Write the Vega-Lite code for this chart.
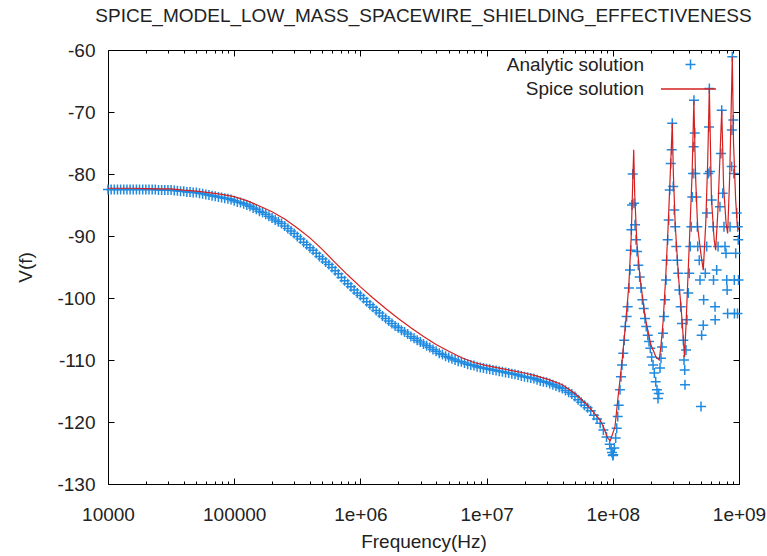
{
"$schema": "https://vega.github.io/schema/vega-lite/v6.json",
"width": 631, "height": 434,
"autosize": "none",
"padding": {"left": 108, "top": 50, "right": 28, "bottom": 72},
"background": "white",
"config": {"view": {"stroke": "#000", "strokeWidth": 1}, "font": "Liberation Sans"},
"title": {"text": "SPICE_MODEL_LOW_MASS_SPACEWIRE_SHIELDING_EFFECTIVENESS", "fontSize": 19, "fontWeight": "normal", "color": "#222", "offset": 15, "anchor": "middle"},
"datasets": {
"analytic": [
{"s":"A","f":1e4,"v":-82.5},{"s":"A","f":1.059e4,"v":-82.5},{"s":"A","f":1.122e4,"v":-82.5},{"s":"A","f":1.189e4,"v":-82.5},{"s":"A","f":1.259e4,"v":-82.5},{"s":"A","f":1.334e4,"v":-82.5},{"s":"A","f":1.413e4,"v":-82.5},{"s":"A","f":1.496e4,"v":-82.5},{"s":"A","f":1.585e4,"v":-82.5},{"s":"A","f":1.679e4,"v":-82.5},
{"s":"A","f":1.778e4,"v":-82.5},{"s":"A","f":1.884e4,"v":-82.5},{"s":"A","f":1.995e4,"v":-82.5},{"s":"A","f":2.113e4,"v":-82.5},{"s":"A","f":2.239e4,"v":-82.5},{"s":"A","f":2.371e4,"v":-82.5},{"s":"A","f":2.512e4,"v":-82.6},{"s":"A","f":2.661e4,"v":-82.6},{"s":"A","f":2.818e4,"v":-82.6},{"s":"A","f":2.985e4,"v":-82.6},
{"s":"A","f":3.162e4,"v":-82.6},{"s":"A","f":3.35e4,"v":-82.65},{"s":"A","f":3.548e4,"v":-82.7},{"s":"A","f":3.758e4,"v":-82.8},{"s":"A","f":3.981e4,"v":-82.8},{"s":"A","f":4.217e4,"v":-82.9},{"s":"A","f":4.467e4,"v":-82.9},{"s":"A","f":4.732e4,"v":-83.0},{"s":"A","f":5.012e4,"v":-83.0},{"s":"A","f":5.309e4,"v":-83.1},
{"s":"A","f":5.623e4,"v":-83.2},{"s":"A","f":5.957e4,"v":-83.3},{"s":"A","f":6.31e4,"v":-83.4},{"s":"A","f":6.683e4,"v":-83.5},{"s":"A","f":7.079e4,"v":-83.6},{"s":"A","f":7.499e4,"v":-83.7},{"s":"A","f":7.943e4,"v":-83.8},{"s":"A","f":8.414e4,"v":-83.9},{"s":"A","f":8.913e4,"v":-84.0},{"s":"A","f":9.441e4,"v":-84.1},
{"s":"A","f":1e5,"v":-84.3},{"s":"A","f":1.059e5,"v":-84.5},{"s":"A","f":1.122e5,"v":-84.6},{"s":"A","f":1.189e5,"v":-84.8},{"s":"A","f":1.259e5,"v":-85.0},{"s":"A","f":1.334e5,"v":-85.2},{"s":"A","f":1.413e5,"v":-85.5},{"s":"A","f":1.496e5,"v":-85.7},{"s":"A","f":1.585e5,"v":-86.0},{"s":"A","f":1.679e5,"v":-86.2},
{"s":"A","f":1.778e5,"v":-86.5},{"s":"A","f":1.884e5,"v":-86.8},{"s":"A","f":1.995e5,"v":-87.1},{"s":"A","f":2.113e5,"v":-87.4},{"s":"A","f":2.239e5,"v":-87.7},{"s":"A","f":2.371e5,"v":-88.0},{"s":"A","f":2.512e5,"v":-88.4},{"s":"A","f":2.661e5,"v":-88.8},{"s":"A","f":2.818e5,"v":-89.2},{"s":"A","f":2.985e5,"v":-89.6},
{"s":"A","f":3.162e5,"v":-90.1},{"s":"A","f":3.35e5,"v":-90.5},{"s":"A","f":3.548e5,"v":-91.0},{"s":"A","f":3.758e5,"v":-91.4},{"s":"A","f":3.981e5,"v":-91.9},{"s":"A","f":4.217e5,"v":-92.3},{"s":"A","f":4.467e5,"v":-92.8},{"s":"A","f":4.732e5,"v":-93.3},{"s":"A","f":5.012e5,"v":-93.7},{"s":"A","f":5.309e5,"v":-94.2},
{"s":"A","f":5.623e5,"v":-94.6},{"s":"A","f":5.957e5,"v":-95.1},{"s":"A","f":6.31e5,"v":-95.6},{"s":"A","f":6.683e5,"v":-96.1},{"s":"A","f":7.079e5,"v":-96.7},{"s":"A","f":7.499e5,"v":-97.2},{"s":"A","f":7.943e5,"v":-97.7},{"s":"A","f":8.414e5,"v":-98.2},{"s":"A","f":8.913e5,"v":-98.7},{"s":"A","f":9.441e5,"v":-99.2},
{"s":"A","f":1e6,"v":-99.6},{"s":"A","f":1.059e6,"v":-100.1},{"s":"A","f":1.122e6,"v":-100.6},{"s":"A","f":1.189e6,"v":-101.1},{"s":"A","f":1.259e6,"v":-101.5},{"s":"A","f":1.334e6,"v":-102.0},{"s":"A","f":1.413e6,"v":-102.4},{"s":"A","f":1.496e6,"v":-102.9},{"s":"A","f":1.585e6,"v":-103.3},{"s":"A","f":1.679e6,"v":-103.7},
{"s":"A","f":1.778e6,"v":-104.1},{"s":"A","f":1.884e6,"v":-104.5},{"s":"A","f":1.995e6,"v":-104.8},{"s":"A","f":2.113e6,"v":-105.2},{"s":"A","f":2.239e6,"v":-105.5},{"s":"A","f":2.371e6,"v":-105.8},{"s":"A","f":2.512e6,"v":-106.2},{"s":"A","f":2.661e6,"v":-106.5},{"s":"A","f":2.818e6,"v":-106.8},{"s":"A","f":2.985e6,"v":-107.1},
{"s":"A","f":3.162e6,"v":-107.4},{"s":"A","f":3.35e6,"v":-107.7},{"s":"A","f":3.548e6,"v":-108.0},{"s":"A","f":3.758e6,"v":-108.3},{"s":"A","f":3.981e6,"v":-108.6},{"s":"A","f":4.217e6,"v":-108.9},{"s":"A","f":4.467e6,"v":-109.1},{"s":"A","f":4.732e6,"v":-109.4},{"s":"A","f":5.012e6,"v":-109.6},{"s":"A","f":5.309e6,"v":-109.8},
{"s":"A","f":5.623e6,"v":-110.0},{"s":"A","f":5.957e6,"v":-110.2},{"s":"A","f":6.31e6,"v":-110.3},{"s":"A","f":6.683e6,"v":-110.5},{"s":"A","f":7.079e6,"v":-110.7},{"s":"A","f":7.499e6,"v":-110.8},{"s":"A","f":7.943e6,"v":-110.9},{"s":"A","f":8.414e6,"v":-111.1},{"s":"A","f":8.913e6,"v":-111.2},{"s":"A","f":9.441e6,"v":-111.3},
{"s":"A","f":1e7,"v":-111.4},{"s":"A","f":1.059e7,"v":-111.5},{"s":"A","f":1.122e7,"v":-111.6},{"s":"A","f":1.189e7,"v":-111.7},{"s":"A","f":1.259e7,"v":-111.8},{"s":"A","f":1.334e7,"v":-111.9},{"s":"A","f":1.413e7,"v":-112.0},{"s":"A","f":1.496e7,"v":-112.1},{"s":"A","f":1.585e7,"v":-112.2},{"s":"A","f":1.679e7,"v":-112.3},
{"s":"A","f":1.778e7,"v":-112.4},{"s":"A","f":1.884e7,"v":-112.6},{"s":"A","f":1.995e7,"v":-112.7},{"s":"A","f":2.113e7,"v":-112.8},{"s":"A","f":2.239e7,"v":-112.9},{"s":"A","f":2.371e7,"v":-113.0},{"s":"A","f":2.512e7,"v":-113.2},{"s":"A","f":2.661e7,"v":-113.4},{"s":"A","f":2.818e7,"v":-113.5},{"s":"A","f":2.985e7,"v":-113.6},
{"s":"A","f":3.162e7,"v":-113.8},{"s":"A","f":3.35e7,"v":-114.0},{"s":"A","f":3.548e7,"v":-114.2},{"s":"A","f":3.758e7,"v":-114.4},{"s":"A","f":3.981e7,"v":-114.6},{"s":"A","f":4.217e7,"v":-114.9},{"s":"A","f":4.467e7,"v":-115.2},{"s":"A","f":4.732e7,"v":-115.5},{"s":"A","f":5.012e7,"v":-115.9},{"s":"A","f":5.309e7,"v":-116.4},
{"s":"A","f":5.623e7,"v":-116.8},{"s":"A","f":5.957e7,"v":-117.3},{"s":"A","f":6.31e7,"v":-117.7},{"s":"A","f":6.683e7,"v":-118.2},{"s":"A","f":7.079e7,"v":-118.9},{"s":"A","f":7.499e7,"v":-119.5},{"s":"A","f":7.943e7,"v":-120.2},{"s":"A","f":8.414e7,"v":-121.3},{"s":"A","f":8.913e7,"v":-122.4},{"s":"A","f":9.441e7,"v":-123.6},
{"s":"A","f":9.7e7,"v":-124.3},{"s":"A","f":9.85e7,"v":-124.9},{"s":"A","f":1.0e8,"v":-125.4},
{"s":"A","f":1.009e8,"v":-125.3},{"s":"A","f":1.028e8,"v":-124.2},{"s":"A","f":1.054e8,"v":-122.6},{"s":"A","f":1.074e8,"v":-121.0},{"s":"A","f":1.094e8,"v":-119.1},{"s":"A","f":1.114e8,"v":-117.3},{"s":"A","f":1.14e8,"v":-114.8},{"s":"A","f":1.161e8,"v":-112.7},{"s":"A","f":1.183e8,"v":-110.8},{"s":"A","f":1.211e8,"v":-108.9},
{"s":"A","f":1.233e8,"v":-106.8},{"s":"A","f":1.256e8,"v":-104.6},{"s":"A","f":1.288e8,"v":-103.0},{"s":"A","f":1.312e8,"v":-101.4},{"s":"A","f":1.343e8,"v":-98.4},{"s":"A","f":1.368e8,"v":-95.5},{"s":"A","f":1.387e8,"v":-92.3},{"s":"A","f":1.403e8,"v":-89.0},{"s":"A","f":1.419e8,"v":-85.0},{"s":"A","f":1.439e8,"v":-80.0},
{"s":"A","f":1.472e8,"v":-84.7},{"s":"A","f":1.5e8,"v":-88.2},{"s":"A","f":1.528e8,"v":-90.6},{"s":"A","f":1.556e8,"v":-92.5},{"s":"A","f":1.592e8,"v":-94.7},{"s":"A","f":1.633e8,"v":-96.6},{"s":"A","f":1.672e8,"v":-98.4},{"s":"A","f":1.714e8,"v":-100.3},{"s":"A","f":1.758e8,"v":-101.7},{"s":"A","f":1.799e8,"v":-103.3},
{"s":"A","f":1.841e8,"v":-104.6},{"s":"A","f":1.892e8,"v":-106.0},{"s":"A","f":1.936e8,"v":-107.0},{"s":"A","f":1.982e8,"v":-108.1},{"s":"A","f":2.033e8,"v":-109.5},{"s":"A","f":2.084e8,"v":-110.8},{"s":"A","f":2.133e8,"v":-112.1},{"s":"A","f":2.188e8,"v":-113.5},{"s":"A","f":2.239e8,"v":-114.8},{"s":"A","f":2.28e8,"v":-116.2},
{"s":"A","f":2.312e8,"v":-115.4},{"s":"A","f":2.366e8,"v":-111.3},{"s":"A","f":2.41e8,"v":-109.7},{"s":"A","f":2.455e8,"v":-107.9},{"s":"A","f":2.5e8,"v":-105.7},{"s":"A","f":2.547e8,"v":-103.0},{"s":"A","f":2.594e8,"v":-100.3},{"s":"A","f":2.642e8,"v":-97.1},{"s":"A","f":2.673e8,"v":-93.9},{"s":"A","f":2.723e8,"v":-90.6},
{"s":"A","f":2.773e8,"v":-87.4},{"s":"A","f":2.825e8,"v":-82.6},{"s":"A","f":2.877e8,"v":-78.3},{"s":"A","f":2.931e8,"v":-76.1},{"s":"A","f":2.958e8,"v":-71.8},{"s":"A","f":3.013e8,"v":-82.0},{"s":"A","f":3.069e8,"v":-85.8},{"s":"A","f":3.126e8,"v":-88.5},{"s":"A","f":3.184e8,"v":-91.7},{"s":"A","f":3.243e8,"v":-93.9},
{"s":"A","f":3.304e8,"v":-96.0},{"s":"A","f":3.365e8,"v":-98.7},{"s":"A","f":3.451e8,"v":-101.4},{"s":"A","f":3.532e8,"v":-104.1},{"s":"A","f":3.622e8,"v":-106.8},{"s":"A","f":3.664e8,"v":-110.0},{"s":"A","f":3.715e8,"v":-111.6},{"s":"A","f":3.733e8,"v":-114.0},{"s":"A","f":3.802e8,"v":-108.4},{"s":"A","f":3.873e8,"v":-103.5},
{"s":"A","f":3.963e8,"v":-99.2},{"s":"A","f":4.036e8,"v":-96.0},{"s":"A","f":4.111e8,"v":-91.7},{"s":"A","f":4.188e8,"v":-88.5},{"s":"A","f":4.266e8,"v":-83.7},{"s":"A","f":4.325e8,"v":-79.9},{"s":"A","f":4.375e8,"v":-75.6},{"s":"A","f":4.395e8,"v":-68.1},{"s":"A","f":4.457e8,"v":-73.4},{"s":"A","f":4.508e8,"v":-79.9},
{"s":"A","f":4.592e8,"v":-83.7},{"s":"A","f":4.677e8,"v":-88.5},{"s":"A","f":4.71e8,"v":-91.7},{"s":"A","f":4.842e8,"v":-93.9},{"s":"A","f":4.909e8,"v":-97.1},{"s":"A","f":5.0e8,"v":-117.5},{"s":"A","f":5.058e8,"v":-106.0},{"s":"A","f":5.212e8,"v":-104.4},{"s":"A","f":5.248e8,"v":-100.3},{"s":"A","f":5.408e8,"v":-96.0},
{"s":"A","f":5.546e8,"v":-91.7},{"s":"A","f":5.572e8,"v":-86.3},{"s":"A","f":5.715e8,"v":-79.9},{"s":"A","f":5.781e8,"v":-72.4},{"s":"A","f":5.821e8,"v":-66.2},{"s":"A","f":5.888e8,"v":-79.6},{"s":"A","f":6.081e8,"v":-84.2},{"s":"A","f":6.252e8,"v":-88.5},{"s":"A","f":6.281e8,"v":-97.1},{"s":"A","f":6.457e8,"v":-101.4},
{"s":"A","f":6.471e8,"v":-103.5},{"s":"A","f":6.653e8,"v":-95.5},{"s":"A","f":6.823e8,"v":-91.7},{"s":"A","f":7.063e8,"v":-85.3},{"s":"A","f":7.194e8,"v":-76.7},{"s":"A","f":7.295e8,"v":-69.7},{"s":"A","f":7.43e8,"v":-83.1},{"s":"A","f":7.603e8,"v":-88.5},{"s":"A","f":7.745e8,"v":-91.7},{"s":"A","f":7.889e8,"v":-92.8},
{"s":"A","f":7.998e8,"v":-97.1},{"s":"A","f":8.054e8,"v":-98.7},{"s":"A","f":8.128e8,"v":-102.5},{"s":"A","f":8.492e8,"v":-88.5},{"s":"A","f":8.75e8,"v":-78.8},{"s":"A","f":8.79e8,"v":-72.9},{"s":"A","f":8.851e8,"v":-61.1},{"s":"A","f":9.016e8,"v":-71.3},{"s":"A","f":9.099e8,"v":-79.9},{"s":"A","f":9.183e8,"v":-97.1},
{"s":"A","f":9.204e8,"v":-102.5},{"s":"A","f":9.419e8,"v":-92.8},{"s":"A","f":9.594e8,"v":-86.3},{"s":"A","f":9.727e8,"v":-102.5},{"s":"A","f":9.772e8,"v":-88.5},{"s":"A","f":9.863e8,"v":-90.6},{"s":"A","f":9.908e8,"v":-97.1}
],
"spice": [
{"s":"S","f":1e4,"v":-82.3},{"s":"S","f":1.259e4,"v":-82.3},{"s":"S","f":1.585e4,"v":-82.3},{"s":"S","f":1.995e4,"v":-82.35},{"s":"S","f":2.512e4,"v":-82.4},{"s":"S","f":3.162e4,"v":-82.4},{"s":"S","f":3.981e4,"v":-82.6},{"s":"S","f":5.012e4,"v":-82.75},{"s":"S","f":6.31e4,"v":-83.0},{"s":"S","f":7.943e4,"v":-83.3},
{"s":"S","f":1e5,"v":-83.65},{"s":"S","f":1.259e5,"v":-84.3},{"s":"S","f":1.585e5,"v":-85.15},{"s":"S","f":1.995e5,"v":-86.1},{"s":"S","f":2.512e5,"v":-87.25},{"s":"S","f":3.162e5,"v":-88.7},{"s":"S","f":3.981e5,"v":-90.3},{"s":"S","f":5.012e5,"v":-92.2},{"s":"S","f":6.31e5,"v":-94.3},{"s":"S","f":7.943e5,"v":-96.3},
{"s":"S","f":1e6,"v":-98.2},{"s":"S","f":1.259e6,"v":-100.0},{"s":"S","f":1.585e6,"v":-101.7},{"s":"S","f":1.995e6,"v":-103.3},{"s":"S","f":2.512e6,"v":-104.8},{"s":"S","f":3.162e6,"v":-106.2},{"s":"S","f":3.981e6,"v":-107.5},{"s":"S","f":5.012e6,"v":-108.6},{"s":"S","f":6.31e6,"v":-109.6},{"s":"S","f":7.943e6,"v":-110.4},
{"s":"S","f":1e7,"v":-110.9},{"s":"S","f":1.259e7,"v":-111.3},{"s":"S","f":1.585e7,"v":-111.7},{"s":"S","f":1.995e7,"v":-112.1},{"s":"S","f":2.512e7,"v":-112.6},{"s":"S","f":3.162e7,"v":-113.2},{"s":"S","f":3.981e7,"v":-114.0},{"s":"S","f":5.012e7,"v":-115.4},{"s":"S","f":6.31e7,"v":-117.3},{"s":"S","f":7.079e7,"v":-118.5},
{"s":"S","f":7.943e7,"v":-119.7},{"s":"S","f":8.511e7,"v":-121.0},{"s":"S","f":9.12e7,"v":-122.6},{"s":"S","f":9.55e7,"v":-123.0},
{"s":"S","f":1.04e8,"v":-120.8},{"s":"S","f":1.1e8,"v":-116.0},{"s":"S","f":1.18e8,"v":-110.5},{"s":"S","f":1.26e8,"v":-104.3},{"s":"S","f":1.34e8,"v":-98.0},{"s":"S","f":1.4e8,"v":-90.0},{"s":"S","f":1.44e8,"v":-81.0},{"s":"S","f":1.465e8,"v":-76.1},{"s":"S","f":1.49e8,"v":-83.0},{"s":"S","f":1.55e8,"v":-91.0},
{"s":"S","f":1.65e8,"v":-97.0},{"s":"S","f":1.8e8,"v":-103.0},{"s":"S","f":2.0e8,"v":-107.5},{"s":"S","f":2.2e8,"v":-109.5},{"s":"S","f":2.33e8,"v":-110.0},{"s":"S","f":2.4e8,"v":-108.0},{"s":"S","f":2.5e8,"v":-104.0},{"s":"S","f":2.62e8,"v":-97.0},{"s":"S","f":2.75e8,"v":-88.0},{"s":"S","f":2.88e8,"v":-78.0},
{"s":"S","f":2.96e8,"v":-71.8},{"s":"S","f":3.02e8,"v":-80.0},{"s":"S","f":3.12e8,"v":-88.0},{"s":"S","f":3.3e8,"v":-96.0},{"s":"S","f":3.55e8,"v":-104.0},{"s":"S","f":3.7e8,"v":-109.5},{"s":"S","f":3.8e8,"v":-104.5},{"s":"S","f":3.95e8,"v":-96.0},{"s":"S","f":4.1e8,"v":-88.0},{"s":"S","f":4.25e8,"v":-80.0},
{"s":"S","f":4.39e8,"v":-68.1},{"s":"S","f":4.52e8,"v":-80.0},{"s":"S","f":4.7e8,"v":-88.5},{"s":"S","f":5.0e8,"v":-93.0},{"s":"S","f":5.21e8,"v":-95.5},{"s":"S","f":5.45e8,"v":-88.0},{"s":"S","f":5.65e8,"v":-78.0},{"s":"S","f":5.82e8,"v":-66.1},{"s":"S","f":6.05e8,"v":-84.0},{"s":"S","f":6.35e8,"v":-90.5},
{"s":"S","f":6.53e8,"v":-92.3},{"s":"S","f":6.8e8,"v":-86.0},{"s":"S","f":7.1e8,"v":-76.0},{"s":"S","f":7.3e8,"v":-69.7},{"s":"S","f":7.55e8,"v":-82.0},{"s":"S","f":7.9e8,"v":-88.0},{"s":"S","f":8.13e8,"v":-89.6},{"s":"S","f":8.45e8,"v":-80.0},{"s":"S","f":8.7e8,"v":-68.0},{"s":"S","f":8.85e8,"v":-61.1},
{"s":"S","f":9.05e8,"v":-75.0},{"s":"S","f":9.4e8,"v":-84.0},{"s":"S","f":9.7e8,"v":-88.5},{"s":"S","f":1e9,"v":-89.0}
]
},
"layer": [
{
"data": {"name": "analytic"},
"mark": {"type": "point", "shape": "M-1,0L1,0M0,-1L0,1", "filled": false, "size": 100, "strokeWidth": 1.5, "opacity": 1},
"encoding": {
"x": {"field": "f", "type": "quantitative",
 "scale": {"type": "log", "domain": [10000, 1000000000], "nice": false},
 "axis": {"orient": "bottom", "title": "Frequency(Hz)", "titleFontSize": 19, "titleFontWeight": "normal", "titleColor": "#222", "titlePadding": 5,
  "values": [1e4,2e4,3e4,4e4,5e4,6e4,7e4,8e4,9e4,1e5,2e5,3e5,4e5,5e5,6e5,7e5,8e5,9e5,1e6,2e6,3e6,4e6,5e6,6e6,7e6,8e6,9e6,1e7,2e7,3e7,4e7,5e7,6e7,7e7,8e7,9e7,1e8,2e8,3e8,4e8,5e8,6e8,7e8,8e8,9e8,1e9],
  "labelExpr": "abs(log(datum.value)/LN10 - round(log(datum.value)/LN10)) > 0.001 ? '' : (datum.value < 1e6 ? format(datum.value, 'd') : '1e+0' + format(log(datum.value)/LN10, '.0f'))",
  "labelFontSize": 19, "labelColor": "#222", "labelPadding": 27, "labelFlush": false, "labelOverlap": false, "labelBound": false,
  "tickSize": {"condition": {"test": "abs(log(datum.value)/LN10 - round(log(datum.value)/LN10)) < 0.001", "value": -6}, "value": -3},
  "tickColor": "#000", "tickWidth": 1, "domain": false, "grid": false}},
"y": {"field": "v", "type": "quantitative",
 "scale": {"domain": [-130, -60], "nice": false, "zero": false},
 "axis": {"orient": "left", "title": "V(f)", "titleFontSize": 19, "titleFontWeight": "normal", "titleColor": "#222", "titlePadding": 21,
  "values": [-130,-120,-110,-100,-90,-80,-70,-60], "labelExpr": "datum.value + ''", "labelFontSize": 19, "labelColor": "#222", "labelPadding": 19, "labelFlush": false, "labelOverlap": false, "labelBound": false,
  "tickSize": -6, "tickColor": "#000", "domain": false, "grid": false}},
"color": {"field": "s", "type": "nominal",
 "scale": {"domain": ["A"], "range": ["#1f8ae0"]},
 "legend": {"orient": "none", "legendX": 573, "legendY": 5, "title": null, "padding": 0,
  "labelExpr": "'Analytic solution'",
  "labelFontSize": 19, "labelColor": "#222", "labelAlign": "right", "labelOffset": -56, "labelLimit": 0,
  "symbolType": "M-1,0L1,0M0,-1L0,1", "symbolSize": 100, "symbolStrokeWidth": 1.5, "symbolFillColor": "transparent", "symbolStrokeColor": "#1f8ae0"}}
}
},
{
"data": {"name": "spice"},
"mark": {"type": "line", "strokeWidth": 1.2, "clip": true},
"encoding": {
"x": {"field": "f", "type": "quantitative",
 "scale": {"type": "log", "domain": [10000, 1000000000], "nice": false},
 "axis": {"orient": "top", "title": null, "labels": false,
  "values": [1e4,2e4,3e4,4e4,5e4,6e4,7e4,8e4,9e4,1e5,2e5,3e5,4e5,5e5,6e5,7e5,8e5,9e5,1e6,2e6,3e6,4e6,5e6,6e6,7e6,8e6,9e6,1e7,2e7,3e7,4e7,5e7,6e7,7e7,8e7,9e7,1e8,2e8,3e8,4e8,5e8,6e8,7e8,8e8,9e8,1e9],
  "tickSize": {"condition": {"test": "abs(log(datum.value)/LN10 - round(log(datum.value)/LN10)) < 0.001", "value": -6}, "value": -3},
  "tickColor": "#000", "tickWidth": 1, "domain": false, "grid": false}},
"y": {"field": "v", "type": "quantitative",
 "scale": {"domain": [-130, -60], "nice": false, "zero": false},
 "axis": {"orient": "right", "title": null, "labels": false, "values": [-130,-120,-110,-100,-90,-80,-70,-60],
  "tickSize": -6, "tickColor": "#000", "domain": false, "grid": false}},
"color": {"field": "s", "type": "nominal", "scale": {"domain": ["S"], "range": ["#d42020"]},
 "legend": {"orient": "none", "legendX": 552, "legendY": 10.5, "title": null, "padding": 0,
  "labelExpr": "'Spice solution'",
  "labelFontSize": 19, "labelColor": "#222", "labelAlign": "right", "labelOffset": -73, "labelLimit": 0,
  "symbolType": "stroke", "symbolSize": 3025, "symbolStrokeWidth": 1.3, "symbolStrokeColor": "#d42020"}}
}
}
],
"resolve": {"scale": {"color": "independent"}, "axis": {"x": "independent", "y": "independent"}, "legend": {"color": "independent"}}
}
